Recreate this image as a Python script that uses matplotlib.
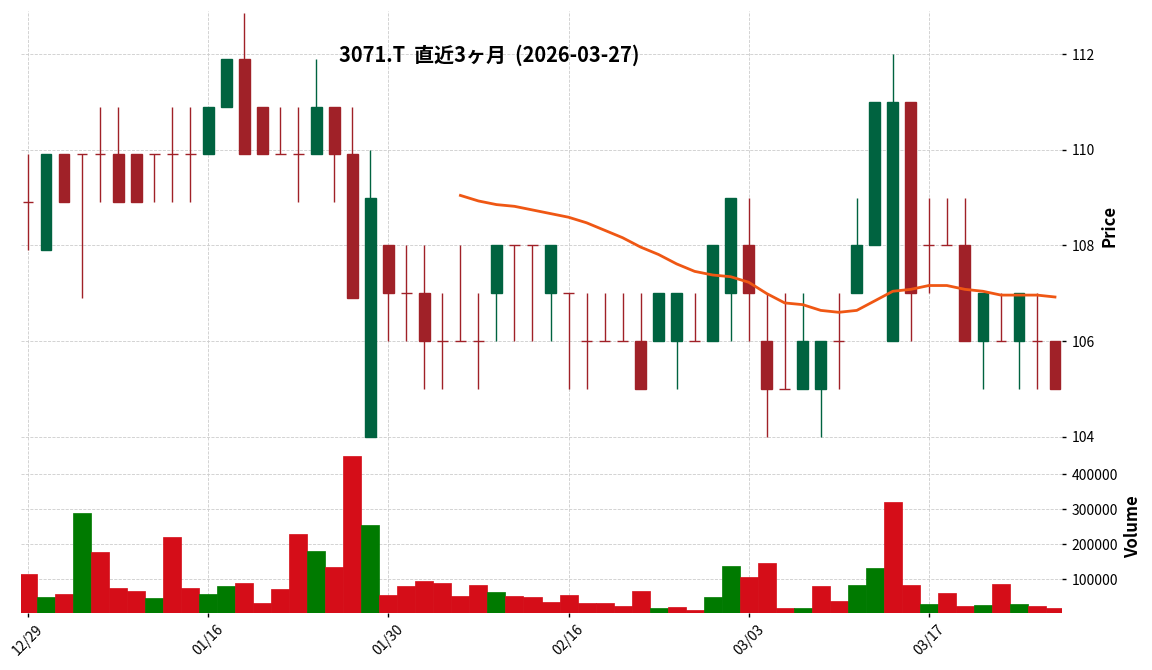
import numpy as np
import pandas as pd
import matplotlib
matplotlib.use("Agg")
import matplotlib.pyplot as plt

plt.rcParams['font.family'] = ['Noto Sans CJK JP', 'DejaVu Sans']

# daily data, last ~3 months
dates = ['2025-12-29', '2025-12-30', '2026-01-05', '2026-01-06', '2026-01-07', '2026-01-08',
         '2026-01-09', '2026-01-13', '2026-01-14', '2026-01-15', '2026-01-16', '2026-01-19',
         '2026-01-20', '2026-01-21', '2026-01-22', '2026-01-23', '2026-01-26', '2026-01-27',
         '2026-01-28', '2026-01-29', '2026-01-30', '2026-02-02', '2026-02-03', '2026-02-04',
         '2026-02-05', '2026-02-06', '2026-02-09', '2026-02-10', '2026-02-12', '2026-02-13',
         '2026-02-16', '2026-02-17', '2026-02-18', '2026-02-19', '2026-02-20', '2026-02-24',
         '2026-02-25', '2026-02-26', '2026-02-27', '2026-03-02', '2026-03-03', '2026-03-04',
         '2026-03-05', '2026-03-06', '2026-03-09', '2026-03-10', '2026-03-11', '2026-03-12',
         '2026-03-13', '2026-03-16', '2026-03-17', '2026-03-18', '2026-03-19', '2026-03-23',
         '2026-03-24', '2026-03-25', '2026-03-26', '2026-03-27']

opens = [108.9, 107.9, 109.9, 109.9, 109.9, 109.9, 109.9, 109.9, 109.9, 109.9,
         109.9, 110.9, 111.9, 110.9, 109.9, 109.9, 109.9, 110.9, 109.9, 104,
         108, 107, 107, 106, 106, 106, 107, 108, 108, 107,
         107, 106, 106, 106, 106, 106, 106, 106, 106, 107,
         108, 106, 105, 105, 105, 106, 107, 108, 106, 111,
         108, 108, 108, 106, 106, 106, 106, 106]
highs = [109.9, 109.9, 109.9, 109.9, 110.9, 110.9, 109.9, 109.9, 110.9, 110.9,
         110.9, 111.9, 112.85, 110.9, 110.9, 110.9, 111.9, 110.9, 110.9, 110,
         108, 108, 108, 107, 108, 107, 108, 108, 108, 108,
         107, 107, 107, 107, 107, 107, 107, 107, 108, 109,
         109, 107, 107, 107, 106, 107, 109, 111, 112, 111,
         109, 109, 109, 107, 107, 107, 107, 106]
lows = [107.9, 107.9, 108.9, 106.9, 108.9, 108.9, 108.9, 108.9, 108.9, 108.9,
        109.9, 110.9, 109.9, 109.9, 109.9, 108.9, 109.9, 108.9, 106.9, 104,
        106, 106, 105, 105, 106, 105, 106, 106, 106, 106,
        105, 105, 106, 106, 105, 106, 105, 106, 106, 106,
        106, 104, 105, 105, 104, 105, 107, 108, 106, 106,
        107, 108, 106, 105, 106, 105, 105, 105]
closes = [108.9, 109.9, 108.9, 109.9, 109.9, 108.9, 108.9, 109.9, 109.9, 109.9,
          110.9, 111.9, 109.9, 109.9, 109.9, 109.9, 110.9, 109.9, 106.9, 109,
          107, 107, 106, 106, 106, 106, 108, 108, 108, 108,
          107, 106, 106, 106, 105, 107, 107, 106, 108, 109,
          107, 105, 105, 106, 106, 106, 108, 111, 111, 107,
          108, 108, 106, 107, 106, 107, 106, 105]
volumes = [115000, 49500, 58000, 289500, 178000, 75000, 67000, 47000, 221000, 75000,
           58000, 81000, 89500, 32000, 72000, 229500, 181000, 135000, 452000, 255000,
           55000, 81000, 95000, 89500, 52000, 84000, 64000, 52000, 49500, 35000,
           55000, 32000, 32000, 24000, 67000, 18000, 21000, 12400, 49500, 138000,
           107000, 147000, 18000, 18000, 81000, 38000, 84000, 132000, 321000, 84000,
           29500, 61000, 24000, 27000, 87000, 29500, 24000, 18000]

title = '3071.T  直近3ヶ月  (2026-03-27)'

UP, DOWN = '#006340', '#a02128'
VUP, VDOWN = '#007a00', '#d50d18'
MAV_COLOR = '#ef5714'
GRID = '#cccccc'

df = pd.DataFrame({'open': opens, 'high': highs, 'low': lows,
                   'close': closes, 'volume': volumes},
                  index=pd.to_datetime(dates))
df['mav25'] = df['close'].rolling(25).mean()

x = np.arange(len(df))
candle_colors = np.where(df['close'] > df['open'], UP, DOWN)
prev_close = df['close'].shift(1).fillna(df['open'])
vol_colors = np.where(df['close'] > prev_close, VUP, VDOWN)

W, H = 1152, 670
fig = plt.figure(figsize=(W / 100, H / 100), dpi=100)
left, right = 21, 1062
ax = fig.add_axes([left / W, 1 - 440 / H, (right - left) / W, (440 - 11) / H])
axv = fig.add_axes([left / W, 1 - 613 / H, (right - left) / W, (613 - 440) / H], sharex=ax)

# candles
ax.vlines(x, df['low'], df['high'], colors=candle_colors, linewidth=1.0, zorder=2)
ax.bar(x, df['close'] - df['open'], bottom=df['open'], width=0.6,
       color=candle_colors, edgecolor=candle_colors, linewidth=1.0, zorder=3)
ax.plot(x, df['mav25'], color=MAV_COLOR, linewidth=2.0, zorder=4)

# volume
axv.bar(x, df['volume'], width=1.0, color=vol_colors, edgecolor=vol_colors,
        linewidth=0.5, zorder=2)

ax.set_xlim(-0.39, len(df) - 1 + 0.39)
ax.set_ylim(103.93, 112.9)
ax.set_yticks(np.arange(104, 113, 2))
axv.set_ylim(0.3 * df['volume'].min(), 1.1 * df['volume'].max())
axv.set_yticks([100000, 200000, 300000, 400000])
axv.set_yticklabels(['100000', '200000', '300000', '400000'])

ticks = x[::10]
axv.set_xticks(ticks)
axv.set_xticklabels(df.index[::10].strftime('%m/%d'), rotation=45, ha='center')

for a in (ax, axv):
    for s in a.spines.values():
        s.set_visible(False)
    a.grid(True, linestyle='--', color=GRID, linewidth=0.6, zorder=0)
    a.set_axisbelow(True)
    a.yaxis.tick_right()
    a.yaxis.set_label_position('right')
    a.tick_params(axis='y', length=3, width=1, pad=4, labelsize=10)
    a.tick_params(axis='x', length=3, width=1, labelsize=10)

ax.tick_params(axis='x', bottom=False, labelbottom=False)

ax.set_ylabel('Price', fontsize=12, fontweight='bold')
axv.set_ylabel('Volume', fontsize=12, fontweight='bold')

fig.text(489.5 / W, 1 - 55 / H, title, ha='center', va='center',
         fontsize=14.4, fontweight='bold')

fig.savefig('out.png', dpi=100)
